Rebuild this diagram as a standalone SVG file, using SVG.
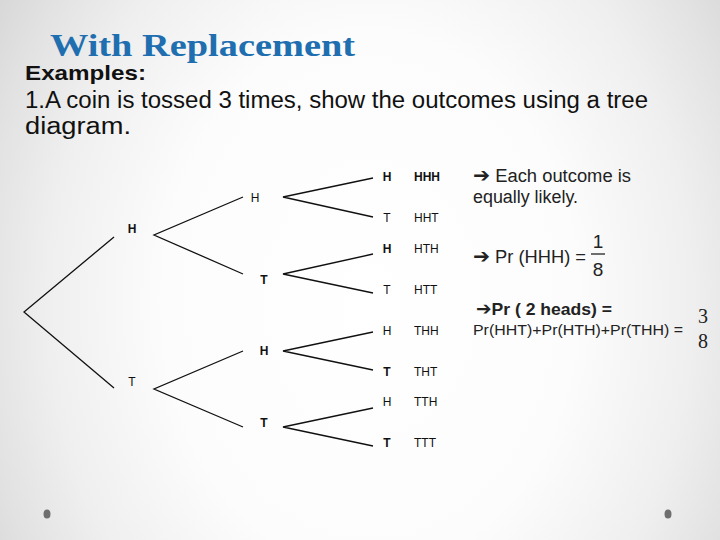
<svg xmlns="http://www.w3.org/2000/svg" width="720" height="540" viewBox="0 0 720 540">
<defs>
<radialGradient id="bg" gradientUnits="userSpaceOnUse" cx="370" cy="300" r="460" gradientTransform="translate(370 300) scale(1 1.3) translate(-370 -300)">
<stop offset="0" stop-color="#ffffff"/>
<stop offset="0.45" stop-color="#fcfcfc"/>
<stop offset="0.7" stop-color="#efefef"/>
<stop offset="0.85" stop-color="#e2e2e2"/>
<stop offset="1" stop-color="#d2d2d2"/>
</radialGradient>
</defs>
<style>
.t{font-family:"Liberation Sans",Arial,sans-serif;fill:#111;}
.lbl{font-family:"Liberation Sans",Arial,sans-serif;font-size:12px;fill:#111;text-anchor:middle;}
.out{font-family:"Liberation Sans",Arial,sans-serif;font-size:12px;fill:#111;}
.b{font-weight:bold;}
.edge{stroke:#111;stroke-width:1.3;fill:none;}
.rt{font-family:"Liberation Sans",Arial,sans-serif;fill:#222;}
.ar{font-family:"DejaVu Sans",sans-serif;font-weight:bold;}
</style>
<rect width="720" height="540" fill="url(#bg)"/>

<text x="50" y="56" font-family="'Liberation Serif','Times New Roman',serif" font-weight="bold" font-size="32" fill="#1f6fb0" textLength="305" lengthAdjust="spacingAndGlyphs">With Replacement</text>
<text class="t b" x="25" y="80" font-size="21" textLength="121" lengthAdjust="spacingAndGlyphs">Examples:</text>
<text class="t" x="25" y="108" font-size="23" textLength="623" lengthAdjust="spacingAndGlyphs">1.A coin is tossed 3 times, show the outcomes using a tree</text>
<text class="t" x="25" y="134" font-size="23" textLength="106" lengthAdjust="spacingAndGlyphs">diagram.</text>

<g id="connectors">
<path class="edge" d="M114,237 L24,312 L114,388"/>
<path class="edge" d="M243,197 L154,235 L243,274"/>
<path class="edge" d="M243,351 L154,389 L243,427"/>
<path class="edge" d="M373,178 L283,197 L373,217"/>
<path class="edge" d="M373,254 L283,274 L373,293"/>
<path class="edge" d="M373,332 L283,351 L373,370"/>
<path class="edge" d="M373,408 L283,427 L373,446"/>
</g>

<g id="n1H"><text class="lbl b" x="132" y="233">H</text></g>
<g id="n1T"><text class="lbl" x="132" y="386">T</text></g>
<g id="n2HH"><text class="lbl" x="255" y="202" font-size="11">H</text></g>
<g id="n2HT"><text class="lbl b" x="264" y="284">T</text></g>
<g id="n2TH"><text class="lbl b" x="264" y="355">H</text></g>
<g id="n2TT"><text class="lbl b" x="264" y="427">T</text></g>

<g id="n3HHH"><text class="lbl b" x="387" y="181">H</text><text class="out b" x="414" y="181">HHH</text></g>
<g id="n3HHT"><text class="lbl" x="387" y="222">T</text><text class="out" x="414" y="222">HHT</text></g>
<g id="n3HTH"><text class="lbl b" x="387" y="253">H</text><text class="out" x="414" y="253">HTH</text></g>
<g id="n3HTT"><text class="lbl" x="387" y="294" fill="#555">T</text><text class="out" x="414" y="294">HTT</text></g>
<g id="n3THH"><text class="lbl" x="387" y="335">H</text><text class="out" x="414" y="335">THH</text></g>
<g id="n3THT"><text class="lbl b" x="387" y="376">T</text><text class="out" x="414" y="376">THT</text></g>
<g id="n3TTH"><text class="lbl" x="387" y="406">H</text><text class="out" x="414" y="406">TTH</text></g>
<g id="n3TTT"><text class="lbl b" x="387" y="447">T</text><text class="out" x="414" y="447">TTT</text></g>

<g id="notes">
<text class="rt" x="473" y="182" font-size="18" textLength="158" lengthAdjust="spacingAndGlyphs"><tspan class="ar" font-size="20">➔</tspan> Each outcome is</text>
<text class="rt" x="473" y="203" font-size="18" textLength="105" lengthAdjust="spacingAndGlyphs">equally likely.</text>
<text class="rt" x="473" y="263" font-size="18" textLength="113" lengthAdjust="spacingAndGlyphs"><tspan class="ar" font-size="20">➔</tspan> Pr (HHH) =</text>
<text class="rt" x="598" y="248" font-size="19" text-anchor="middle">1</text>
<line x1="591" y1="254" x2="605" y2="254" stroke="#222" stroke-width="1.3"/>
<text class="rt" x="598" y="276" font-size="19" text-anchor="middle">8</text>
<text class="rt b" x="476" y="315" font-size="17" textLength="136" lengthAdjust="spacingAndGlyphs"><tspan class="ar" font-size="18">➔</tspan>Pr ( 2 heads) =</text>
<text class="rt" x="473" y="335" font-size="15" textLength="210" lengthAdjust="spacingAndGlyphs">Pr(HHT)+Pr(HTH)+Pr(THH) =</text>
<text x="703" y="323" font-family="'Liberation Serif','Times New Roman',serif" font-size="20" fill="#222" text-anchor="middle">3</text>
<text x="703" y="348" font-family="'Liberation Serif','Times New Roman',serif" font-size="20" fill="#222" text-anchor="middle">8</text>
</g>

<ellipse cx="47" cy="514" rx="3.5" ry="4.5" fill="#6e6e6e"/>
<ellipse cx="668" cy="514" rx="3.5" ry="4.5" fill="#6e6e6e"/>
</svg>
